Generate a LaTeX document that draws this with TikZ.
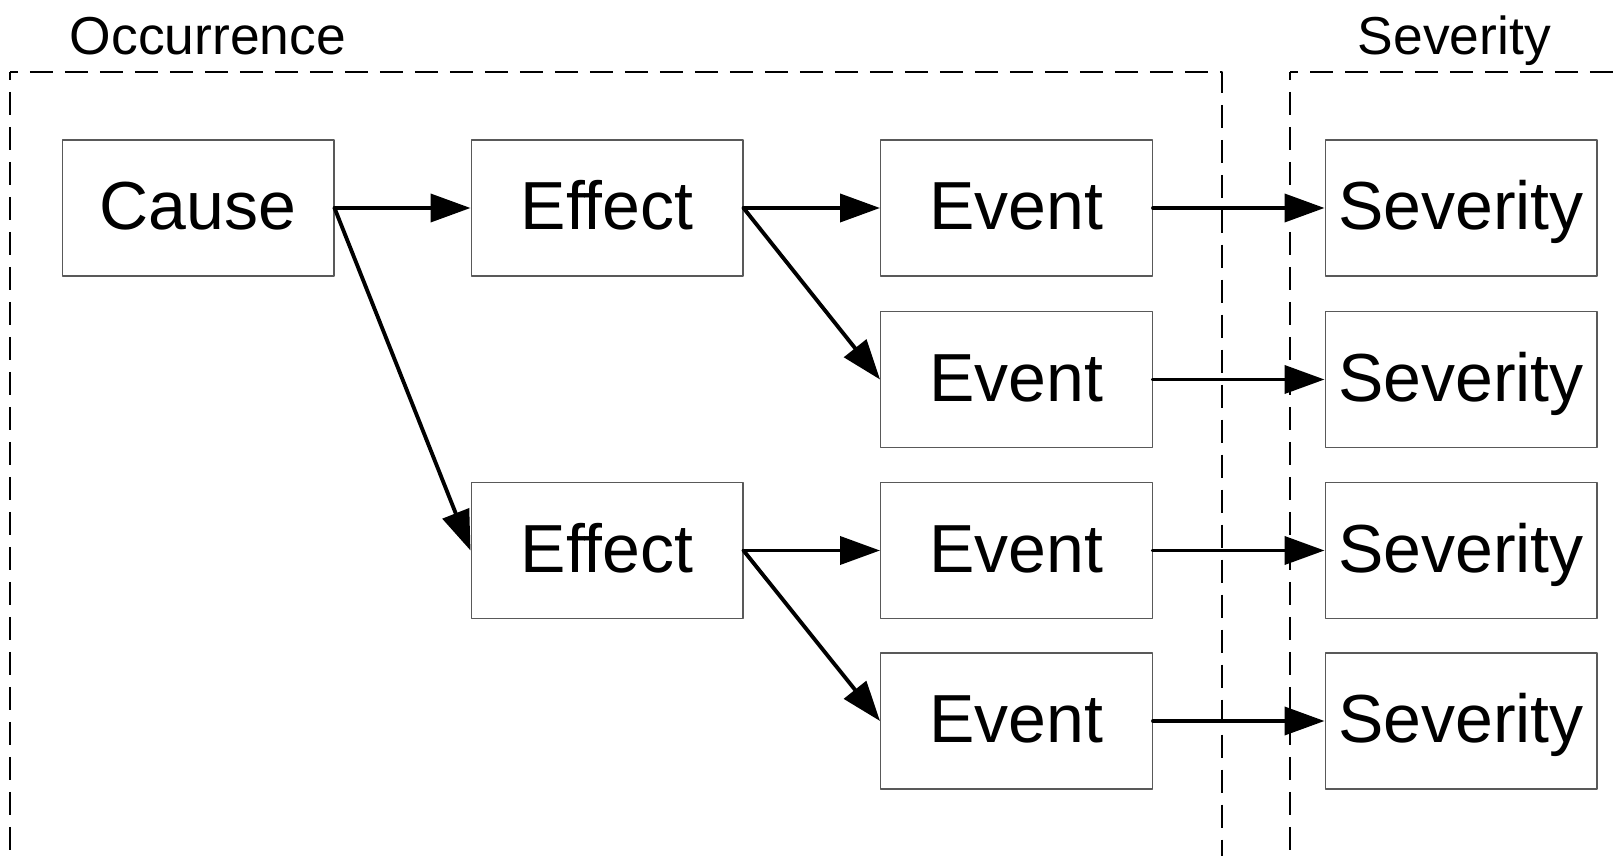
\documentclass[tikz,border=0pt]{standalone}
\usepackage{fontspec}
\setmainfont{Liberation Sans}
\usetikzlibrary{arrows.meta}

\begin{document}
\begin{tikzpicture}[line cap=round,line join=round,>={Triangle[length=0.8cm,width=0.56cm]},x=0.02cm,y=0.02cm,
  block/.style={draw=black!65,line width=0.6pt,minimum width=5.44cm,minimum height=2.72cm,inner sep=0pt,
    text height=28.6pt,text depth=3.9pt,font=\fontsize{38.7}{40}\selectfont},
  flow/.style={->,line width=2.2pt},
  zone/.style={dash pattern=on 0.46cm off 0.24cm,dash phase=0.3cm,line width=1.4pt,line cap=butt},
  heading/.style={anchor=base west,inner sep=0pt,font=\fontsize{30.4}{32}\selectfont}]
\useasboundingbox (0,0) rectangle (1614,856);
\clip (0,0) rectangle (1614,856);
% dashed groups
\draw [zone] (10,784) -- (10,-20);
\draw [zone] (10,784) -- (1222,784) -- (1222,-20);
\draw [zone] (1290,784) -- (1290,-20);
\draw [zone] (1290,784) -- (1650,784);
\node[heading] (occ) at (69.5,801.5) {Occurrence};
\node[heading] (sev) at (1357.5,801.5) {Severity};
% boxes
\node[block] (cause) at (198,648) {Cause};
\node[block] (effA) at (607,648) {Effect};
\node[block] (effB) at (607,305.5) {Effect};
\node[block] (evA) at (1016.5,648) {Event};
\node[block] (evB) at (1016.5,476.5) {Event};
\node[block] (evC) at (1016.5,305.5) {Event};
\node[block] (evD) at (1016.5,135) {Event};
\node[block] (sevA) at (1461,648) {Severity};
\node[block] (sevB) at (1461,476.5) {Severity};
\node[block] (sevC) at (1461,305.5) {Severity};
\node[block] (sevD) at (1461,135) {Severity};
% arrows
\draw [flow] (cause.east) -- (effA.west);
\draw [flow] (cause.east) -- (effB.west);
\draw [flow] (effA.east) -- (evA.west);
\draw [flow] (effA.east) -- (evB.west);
\draw [flow] (effB.east) -- (evC.west);
\draw [flow] (effB.east) -- (evD.west);
\draw [flow] (evA.east) -- (sevA.west);
\draw [flow] (evB.east) -- (sevB.west);
\draw [flow] (evC.east) -- (sevC.west);
\draw [flow] (evD.east) -- (sevD.west);

\end{tikzpicture}
\end{document}
